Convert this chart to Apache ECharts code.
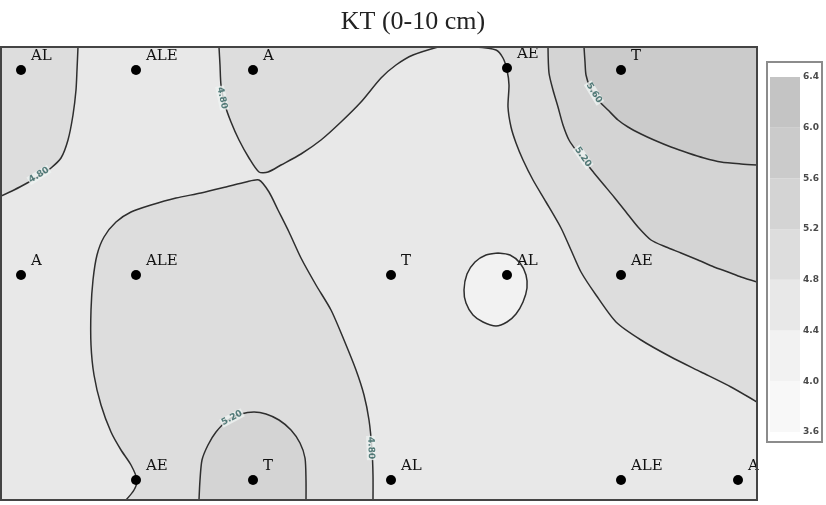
<!DOCTYPE html>
<html>
<head>
<meta charset="utf-8">
<title>KT (0-10 cm)</title>
<script src="https://cdn.jsdelivr.net/npm/echarts@6/dist/echarts.min.js"></script>
<style>
  html, body { margin: 0; padding: 0; background: #ffffff; }
  #chart { width: 826px; height: 505px; }
</style>
</head>
<body>
<div id="chart"></div>
<script>
// Field extent (m)
const fieldWidth = 75.6;
const fieldHeight = 45.3;

// Sampling sites
const siteNames = ['AL', 'ALE', 'A', 'AE', 'T', 'A', 'ALE', 'T', 'AL', 'AE', 'AE', 'T', 'AL', 'ALE', 'A'];
const siteX = [2, 13.5, 25.2, 50.6, 62, 2, 13.5, 39, 50.6, 62, 13.5, 25.2, 39, 62, 73.7];
const siteY = [43, 43, 43, 43.2, 43, 22.5, 22.5, 22.5, 22.5, 22.5, 2, 2, 2, 2, 2];

// Colour scale classes (KT)
const scaleTicks = [3.6, 4.0, 4.4, 4.8, 5.2, 5.6, 6.0, 6.4];
const scaleColors = ['#f8f8f8', '#f2f2f2', '#e8e8e8', '#dddddd', '#d4d4d4', '#cbcbcb', '#c4c4c4'];

// Isolines (x, y in m)
const isoNW = [[7.7,45.3],[7.6,43],[7.5,41],[7.2,38.5],[6.7,36],[6.0,34.2],[5.0,33.2],[4.0,32.5],[2.8,31.8],[1.3,31.0],[0,30.4]];
const isoNorth = [[21.8,45.3],[21.9,43.5],[22,41.5],[22.4,39.5],[23,37.8],[23.8,36],[24.8,34.2],[25.8,32.8],[26.7,32.8],[28,33.5],[30,34.6],[32,36],[34,37.8],[36,39.8],[38,42.2],[39.5,43.5],[41.2,44.5],[43.7,45.3]];
const isoEast1 = [[47.4,45.3],[49.5,45],[50.2,44.2],[50.6,43],[50.8,41.5],[50.7,39.3],[51,37.3],[51.5,35.7],[52.2,34],[53.2,32],[54.5,29.8],[56,27.2],[57,25],[58,22.8],[59.5,20.5],[61.5,17.8],[64,16],[67,14.3],[70,12.8],[73,11.3],[75.6,9.8]];
const isoEast2 = [[54.7,45.3],[54.8,42.7],[55.2,41],[55.7,39.3],[56.2,37.5],[56.8,36],[57.7,34.7],[58.5,33.7],[59.3,32.7],[60.3,31.5],[61.3,30.3],[62.5,28.8],[63.7,27.3],[65,26],[66.5,25.3],[68,24.7],[69.7,24],[71.3,23.3],[72.7,22.8],[74,22.3],[75.6,21.8]];
const isoEast3 = [[58.3,45.3],[58.4,43.8],[58.5,42.5],[58.9,41.3],[59.7,40],[60.7,39],[61.7,38],[62.7,37.3],[64,36.6],[65.3,36],[67,35.3],[68.7,34.7],[70.3,34.2],[72,33.8],[74,33.6],[75.6,33.5]];
const isoWest = [[12.5,0],[13.3,1],[13.6,2],[13,3.5],[12,5],[11,6.8],[10,9.5],[9.3,12.5],[9,15.5],[9,19],[9.2,22],[9.6,24.5],[10.3,26.3],[11.5,27.8],[13,28.8],[15,29.5],[17.5,30.2],[20,30.7],[22.5,31.3],[24.5,31.8],[25.8,32],[26.8,30.8],[27.7,29],[28.8,26.8],[30,24.2],[31.5,21.5],[33,19],[34.3,16],[35.5,13],[36.3,10.5],[36.8,8],[37.1,5],[37.2,2.5],[37.2,0]];
const isoSouth = [[19.8,0],[19.9,2],[20.1,4],[20.7,5.5],[21.5,6.8],[22.7,8],[24,8.6],[25.3,8.8],[26.5,8.6],[27.8,8],[29,7],[29.9,5.7],[30.4,4.2],[30.5,2],[30.5,0]];
const isoLow = [[49.7,24.7],[48.5,24.5],[47.4,23.8],[46.6,22.6],[46.3,21],[46.5,19.7],[47.2,18.5],[48.2,17.8],[49.5,17.4],[50.6,17.8],[51.5,18.6],[52.2,19.8],[52.6,21.2],[52.5,22.5],[51.9,23.7],[50.9,24.5],[49.7,24.7]];

// Isoline value tags: x, y, text
const isoTags = [[3.8, 32.5, '4.80'], [22.1, 40.2, '4.80'], [58.2, 34.3, '5.20'], [59.3, 40.7, '5.60'], [37.0, 5.2, '4.80'], [23.1, 8.2, '5.20']];
const isoTagAngles = [32, -78, -55, -58, -88, 28];

// ---- build shaded zones (drawn in order, later ones on top) ----
const NE = [fieldWidth, fieldHeight];
const NW = [0, fieldHeight];
const zones = [
  { ring: isoNW.concat([NW]), cls: 3 },
  { ring: isoNorth, cls: 3 },
  { ring: isoEast1.concat([NE]), cls: 3 },
  { ring: isoEast2.concat([NE]), cls: 4 },
  { ring: isoEast3.concat([NE]), cls: 5 },
  { ring: isoWest, cls: 3 },
  { ring: isoSouth, cls: 4 },
  { ring: isoLow, cls: 1 }
];
const isolines = [isoNW, isoNorth, isoEast1, isoEast2, isoEast3, isoWest, isoSouth, isoLow];

const chart = echarts.init(document.getElementById('chart'), null, { renderer: 'canvas' });

const plotLeft = 1, plotTop = 47, plotW = 756, plotH = 453;

const hiddenValueAxis = (extra) => Object.assign({
  type: 'value',
  axisLine: { show: false },
  axisTick: { show: false },
  axisLabel: { show: false },
  splitLine: { show: false }
}, extra);

const option = {
  animation: false,
  backgroundColor: '#ffffff',
  title: {
    text: 'KT (0-10 cm)',
    left: 408,
    textAlign: 'center',
    top: 4,
    textStyle: { fontFamily: 'Liberation Serif', fontSize: 26, fontWeight: 'normal', color: '#222222' }
  },
  graphic: [
    {
      type: 'rect', z: 0,
      shape: { x: 767, y: 62, width: 55, height: 380 },
      style: { fill: '#ffffff', stroke: '#8c8c8c', lineWidth: 2 }
    },
    {
      type: 'rect', z: 100,
      shape: { x: plotLeft, y: plotTop, width: plotW, height: plotH },
      style: { fill: null, stroke: '#444444', lineWidth: 2 }
    }
  ],
  grid: [
    { left: plotLeft, top: plotTop, width: plotW, height: plotH, show: true, backgroundColor: scaleColors[2], borderWidth: 0 },
    { left: 770, top: 77, width: 30, height: 355 }
  ],
  xAxis: [
    hiddenValueAxis({ gridIndex: 0, min: 0, max: fieldWidth }),
    hiddenValueAxis({ gridIndex: 1, min: 0, max: 1 })
  ],
  yAxis: [
    hiddenValueAxis({ gridIndex: 0, min: 0, max: fieldHeight }),
    {
      type: 'value', gridIndex: 1, min: 3.6, max: 6.4, interval: 0.4, position: 'right',
      axisLine: { show: false }, axisTick: { show: false }, splitLine: { show: false },
      axisLabel: {
        margin: 3, fontSize: 9, fontWeight: 'bold', color: '#4a4a4a', fontFamily: 'DejaVu Sans',
        formatter: (v) => v.toFixed(1)
      }
    }
  ],
  series: [
    // shaded zones
    {
      type: 'custom', xAxisIndex: 0, yAxisIndex: 0, clip: true, z: 1, silent: true,
      data: zones.map((zn) => zn.ring[0]),
      renderItem: (params, api) => {
        const zn = zones[params.dataIndex];
        return {
          type: 'polygon',
          shape: { points: zn.ring.map((p) => api.coord(p)) },
          style: { fill: scaleColors[zn.cls], stroke: null }
        };
      }
    },
    // isolines
    {
      type: 'custom', xAxisIndex: 0, yAxisIndex: 0, clip: true, z: 3, silent: true,
      data: isolines.map((ln) => ln[0]),
      renderItem: (params, api) => {
        const ln = isolines[params.dataIndex];
        return {
          type: 'polyline',
          shape: { points: ln.map((p) => api.coord(p)), smooth: 0.25 },
          style: { fill: null, stroke: '#2e2e2e', lineWidth: 1.5 }
        };
      }
    },
    // isoline value tags
    {
      type: 'scatter', xAxisIndex: 0, yAxisIndex: 0, z: 4, symbolSize: 0, silent: true,
      data: isoTags.map((t, i) => ({
        value: [t[0], t[1]],
        label: {
          show: true, position: 'inside', formatter: t[2], rotate: isoTagAngles[i],
          fontSize: 9, fontFamily: 'DejaVu Sans', fontWeight: 'bold', color: '#2e5f5c',
          backgroundColor: '#eef3f1', padding: [0, 1]
        }
      }))
    },
    // sampling sites
    {
      type: 'scatter', xAxisIndex: 0, yAxisIndex: 0, z: 5, silent: true,
      symbol: 'circle', symbolSize: 10,
      itemStyle: { color: '#000000', opacity: 1 },
      label: {
        show: true, position: [15, -16],
        fontFamily: 'DejaVu Serif', fontSize: 15, color: '#111111',
        formatter: (p) => siteNames[p.dataIndex]
      },
      data: siteX.map((x, i) => [x, siteY[i]])
    },
    // colour scale bar
    {
      type: 'custom', xAxisIndex: 1, yAxisIndex: 1, z: 2, silent: true,
      data: scaleColors.map((c, i) => [0, scaleTicks[i], scaleTicks[i + 1]]),
      renderItem: (params, api) => {
        const lo = api.value(1), hi = api.value(2);
        const a = api.coord([0, hi]);
        const b = api.coord([1, lo]);
        return {
          type: 'rect',
          shape: { x: a[0], y: a[1], width: b[0] - a[0], height: b[1] - a[1] },
          style: { fill: scaleColors[params.dataIndex] }
        };
      }
    }
  ]
};

chart.setOption(option);
</script>
</body>
</html>
